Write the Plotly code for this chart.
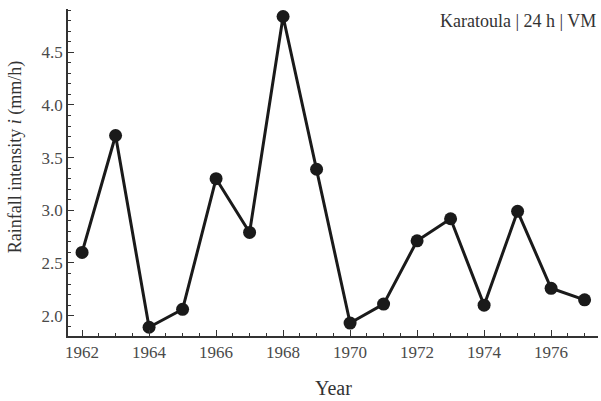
import plotly.graph_objects as go

# yearly rainfall intensity, Karatoula station
years = list(range(1962, 1978))
intensity = [2.60, 3.71, 1.89, 2.06, 3.30, 2.79, 4.84, 3.39,
             1.93, 2.11, 2.71, 2.92, 2.10, 2.99, 2.26, 2.15]
x_ticks = [1962, 1964, 1966, 1968, 1970, 1972, 1974, 1976]
y_ticks = [2.0, 2.5, 3.0, 3.5, 4.0, 4.5]

font = "Liberation Serif, Times New Roman, serif"

trace = go.Scatter(
    x=years, y=intensity, mode="lines+markers",
    line=dict(color="#1a1a1a", width=3),
    marker=dict(color="#1a1a1a", size=13),
)

fig = go.Figure(data=[trace])

axis_common = dict(
    showgrid=False, zeroline=False, showline=True, automargin=False,
    linecolor="#333333", linewidth=1.5,
    ticks="inside", ticklen=6, tickwidth=1.3, tickcolor="#333333",
    tickfont=dict(family=font, size=17, color="#4a4a4a"),
    mirror=False,
)

fig.update_layout(
    width=601, height=401,
    margin=dict(l=68, r=3, t=9, b=65),
    plot_bgcolor="white", paper_bgcolor="white",
    showlegend=False,
    font=dict(family=font, color="#333333"),
    xaxis=dict(
        range=[1961.58, 1977.4], tickvals=x_ticks,
        minor=dict(ticks="inside", dtick=0.5, tick0=1962, ticklen=3.5,
                   tickwidth=1.2, tickcolor="#333333"),
        **axis_common,
    ),
    yaxis=dict(
        range=[1.807, 4.911], tickvals=y_ticks, tickformat=".1f",
        minor=dict(ticks="inside", dtick=0.1, tick0=2.0, ticklen=3.5,
                   tickwidth=1.2, tickcolor="#333333"),
        **axis_common,
    ),
)

# axis titles placed as annotations
fig.add_annotation(
    text="Year", xref="paper", yref="paper", x=0.5, y=-0.159,
    xanchor="center", yanchor="middle", showarrow=False,
    font=dict(family=font, size=20, color="#333333"),
)
fig.add_annotation(
    text="Rainfall intensity <i>i</i> (mm/h)", xref="paper", yref="paper",
    x=-0.1, y=0.547, xanchor="center", yanchor="middle", textangle=-90,
    showarrow=False, font=dict(family=font, size=18, color="#333333"),
)
fig.add_annotation(
    text="Karatoula | 24 h | VM", xref="paper", yref="paper",
    x=1.0, y=1.0, xanchor="right", yanchor="top", showarrow=False,
    font=dict(family=font, size=18, color="#333333"),
)

# drop the page's default body margin so the figure sits at the corner
fig.write_html("out.html", config={"displayModeBar": False},
               post_script="document.body.style.margin='0';")
